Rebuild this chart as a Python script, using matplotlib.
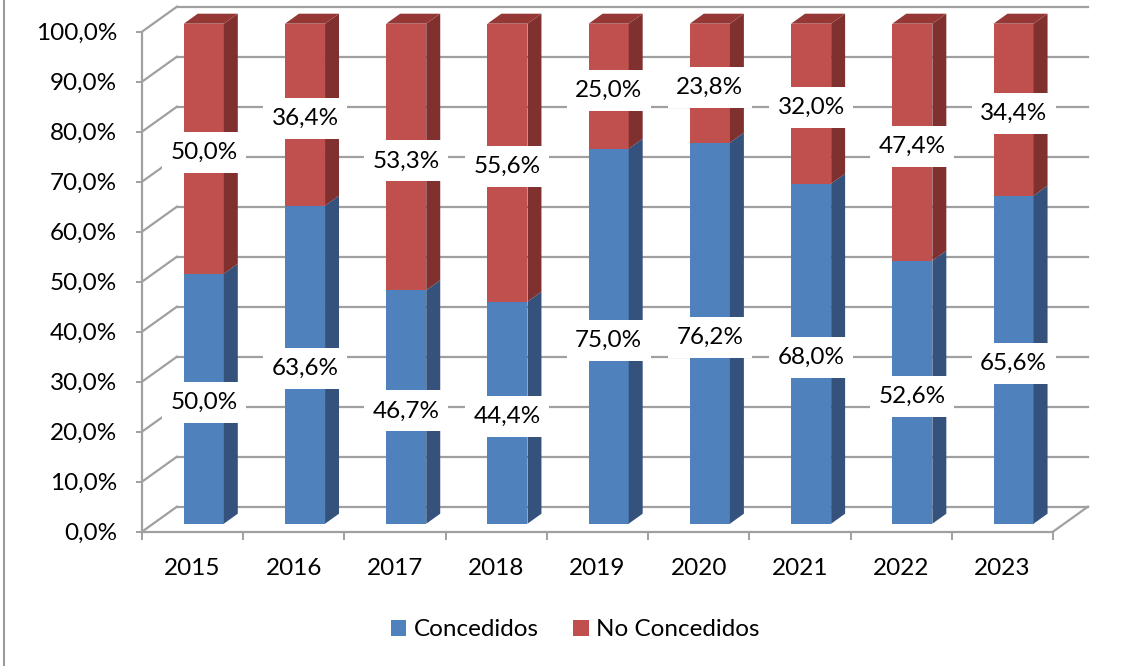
import matplotlib
matplotlib.use("Agg")
import matplotlib.pyplot as plt
import matplotlib.transforms as mtransforms
from matplotlib.patches import Polygon, Rectangle, Patch
from matplotlib.lines import Line2D

years = ["2015", "2016", "2017", "2018", "2019", "2020", "2021", "2022", "2023"]
concedidos = [50.0, 63.6, 46.7, 44.4, 75.0, 76.2, 68.0, 52.6, 65.6]
no_concedidos = [50.0, 36.4, 53.3, 55.6, 25.0, 23.8, 32.0, 47.4, 34.4]
yticks = [0, 10, 20, 30, 40, 50, 60, 70, 80, 90, 100]
ytick_labels = ["%.1f%%" % v for v in yticks]
ytick_labels = [s.replace(".", ",") for s in ytick_labels]

FONT = "Lato"
FS = 17.5
GRID = "#A0A0A0"
BLUE, BLUE_SIDE = "#4F81BD", "#34527C"
RED, RED_SIDE, RED_TOP = "#C0504D", "#80302F", "#953735"

W, H = 1132, 666
fig = plt.figure(figsize=(W / 100, H / 100), dpi=100)
fig.patch.set_facecolor("white")

n = len(years)
DX, DY = 0.345, 5.0          # projected depth offset (category units, %)
d0, d1 = 0.32, 0.72          # bar depth range
hw = 0.198                   # half width of bar

x0_px, y0_px = 142, 666 - 531.7
ax = fig.add_axes([x0_px / W, y0_px / H, 9.4 * 101.22 / W, 106 * 5 / H])
ax.set_xlim(0, 9.4)
ax.set_ylim(0, 106)
for s in ax.spines.values():
    s.set_visible(False)
ax.set_facecolor("none")

# back wall grid + side wall diagonals
for v in yticks:
    ax.plot([DX, n + DX], [v + DY, v + DY], color=GRID, lw=1.6, zorder=1, clip_on=False)
    ax.plot([0, DX], [v, v + DY], color=GRID, lw=1.6, zorder=1, clip_on=False)
# floor right edge and front floor / axis
ax.plot([n, n + DX], [0, DY], color=GRID, lw=1.6, zorder=1, clip_on=False)
ax.plot([0, n], [0, 0], color=GRID, lw=1.6, zorder=1, clip_on=False)
ax.plot([0, 0], [0, 100], color=GRID, lw=1.6, zorder=1, clip_on=False)

xc = [i + 0.5 + d0 * DX for i in range(n)]
base_off = d0 * DY
bot = [base_off] * n
top_b = [base_off + c for c in concedidos]

ax.bar(xc, concedidos, bottom=bot, width=2 * hw, color=BLUE, zorder=3, linewidth=0)
ax.bar(xc, no_concedidos, bottom=top_b, width=2 * hw, color=RED, zorder=3, linewidth=0)

ddx, ddy = (d1 - d0) * DX, (d1 - d0) * DY
for i in range(n):
    xr = xc[i] + hw
    xl = xc[i] - hw
    segs = [(0, concedidos[i], BLUE_SIDE), (concedidos[i], concedidos[i] + no_concedidos[i], RED_SIDE)]
    for yb, yt, col in segs:
        yb2, yt2 = yb + base_off, yt + base_off
        ax.add_patch(Polygon([(xr, yb2), (xr + ddx, yb2 + ddy), (xr + ddx, yt2 + ddy), (xr, yt2)],
                             closed=True, facecolor=col, edgecolor="none", zorder=3))
    yt2 = concedidos[i] + no_concedidos[i] + base_off
    ax.add_patch(Polygon([(xl, yt2), (xr, yt2), (xr + ddx, yt2 + ddy), (xl + ddx, yt2 + ddy)],
                         closed=True, facecolor=RED_TOP, edgecolor="none", zorder=3))

# data labels with white boxes
BW, BH = 84, 41
def label(x, y, txt):
    tr = mtransforms.Affine2D().scale(BW, BH).translate(-BW / 2, -BH / 2) + \
        mtransforms.ScaledTranslation(x, y, ax.transData)
    ax.add_patch(Rectangle((0, 0), 1, 1, transform=tr, facecolor="white", edgecolor="none",
                           zorder=5, clip_on=False))
    ax.text(x, y, txt, ha="center", va="center", fontsize=FS, family=FONT, color="black",
            zorder=6, clip_on=False)

for i in range(n):
    c, nc = concedidos[i], no_concedidos[i]
    label(xc[i], base_off + c / 2 - 0.8, ("%.1f%%" % c).replace(".", ","))
    label(xc[i], base_off + c + nc / 2 - 0.8, ("%.1f%%" % nc).replace(".", ","))

# ticks
ax.set_yticks(yticks)
ax.set_yticklabels(ytick_labels, family=FONT, fontsize=FS)
ax.tick_params(axis="y", length=4.5, width=1.4, color=GRID, pad=13.5, direction="out")
ax.set_xticks([i + 0.5 for i in range(n)])
ax.set_xticklabels(years, family=FONT, fontsize=FS)
ax.set_xticks(list(range(n + 1)), minor=True)
ax.tick_params(axis="x", which="major", length=0, pad=19)
ax.tick_params(axis="x", which="minor", length=6, width=1.4, color=GRID, direction="out")

# legend
handles = [Patch(facecolor=BLUE, edgecolor="none", label="Concedidos"),
           Patch(facecolor=RED, edgecolor="none", label="No Concedidos")]
fig.legend(handles=handles, loc="center", bbox_to_anchor=(575 / W, (666 - 630) / H), ncol=2,
           frameon=False, prop={"family": FONT, "size": FS}, handlelength=0.65, handleheight=0.65,
           handletextpad=0.3, columnspacing=1.4)

# chart border (left edge)
fig.add_artist(Line2D([3.5 / W, 3.5 / W], [0, 1], color="#9A9A9A", lw=1.5))

fig.savefig("out.png", dpi=100, facecolor="white")
